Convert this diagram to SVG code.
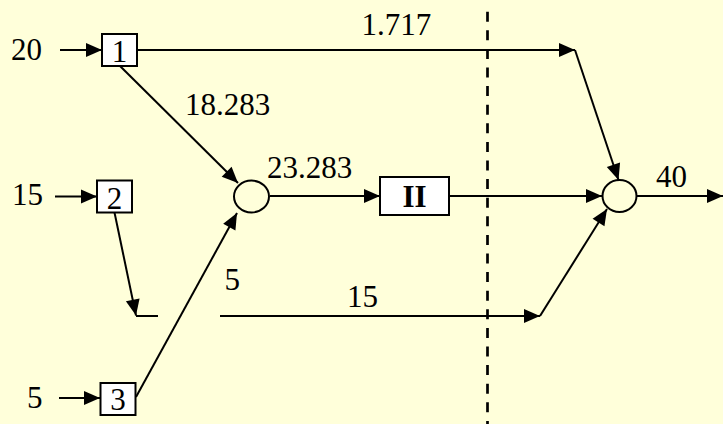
<svg xmlns="http://www.w3.org/2000/svg" width="723" height="424" viewBox="0 0 723 424">
<style>
  text { font-family: "Liberation Serif", "Times New Roman", serif; font-size: 31px; fill: #000; }
  .box { fill: #fff; stroke: #000; stroke-width: 2; }
  .node { fill: none; stroke: #000; stroke-width: 2; }
  .ln { fill: none; stroke: #000; stroke-width: 2; }
  .arr { marker-end: url(#ah); }
  .dash { stroke: #000; stroke-width: 2.7; stroke-dasharray: 10 8.6; }
</style>
<defs>
  <marker id="ah" markerUnits="userSpaceOnUse" markerWidth="16" markerHeight="14" refX="16" refY="7" orient="auto" overflow="visible">
    <path d="M0,0 L16,7 L0,14 z" fill="#000"/>
  </marker>
</defs>
<rect width="723" height="424" fill="#FFFFDA"/>

<g id="connectors">
  <line class="ln arr" x1="60" y1="50" x2="102" y2="50"/>
  <line class="ln arr" x1="55" y1="196.5" x2="97" y2="196.5"/>
  <line class="ln arr" x1="59" y1="398" x2="100" y2="398"/>
  <polyline class="ln arr" points="137,50 575,50"/>
  <line class="ln arr" x1="575" y1="50" x2="618.5" y2="180"/>
  <line class="ln arr" x1="120" y1="66" x2="238" y2="183"/>
  <line class="ln arr" x1="114.5" y1="212.5" x2="136" y2="315.5"/>
  <line class="ln" x1="136" y1="316" x2="158" y2="316"/>
  <line class="ln arr" x1="220" y1="316" x2="540" y2="316"/>
  <line class="ln arr" x1="540" y1="316" x2="607" y2="209"/>
  <line class="ln arr" x1="136" y1="397" x2="237" y2="213"/>
  <line class="ln arr" x1="270" y1="196" x2="380" y2="196"/>
  <line class="ln arr" x1="449" y1="196" x2="602" y2="196"/>
  <line class="ln arr" x1="637" y1="196" x2="723" y2="196"/>
  <line class="dash" x1="487.5" y1="11.7" x2="487.5" y2="424"/>
</g>

<g id="n1"><rect class="box" x="102" y="34" width="35" height="32"/><text x="119.5" y="61.5" text-anchor="middle">1</text></g>
<g id="n2"><rect class="box" x="97" y="180.5" width="35" height="32"/><text x="114.5" y="208.5" text-anchor="middle">2</text></g>
<g id="n3"><rect class="box" x="100.5" y="383" width="35" height="32"/><text x="118" y="410" text-anchor="middle">3</text></g>
<g id="m1"><ellipse class="node" cx="251.5" cy="196.5" rx="17.5" ry="16"/></g>
<g id="nII"><rect class="box" x="380" y="177" width="69" height="38"/><text x="414.5" y="206.5" text-anchor="middle" font-weight="bold" font-size="29">II</text></g>
<g id="m2"><ellipse class="node" cx="619.5" cy="196" rx="17" ry="16"/></g>

<g id="labels">
  <text x="11" y="60">20</text>
  <text x="12" y="205">15</text>
  <text x="27" y="408">5</text>
  <text x="361.5" y="35">1.717</text>
  <text x="185" y="115">18.283</text>
  <text x="267" y="178">23.283</text>
  <text x="224.5" y="290">5</text>
  <text x="347" y="306.5">15</text>
  <text x="656" y="187">40</text>
</g>
</svg>
